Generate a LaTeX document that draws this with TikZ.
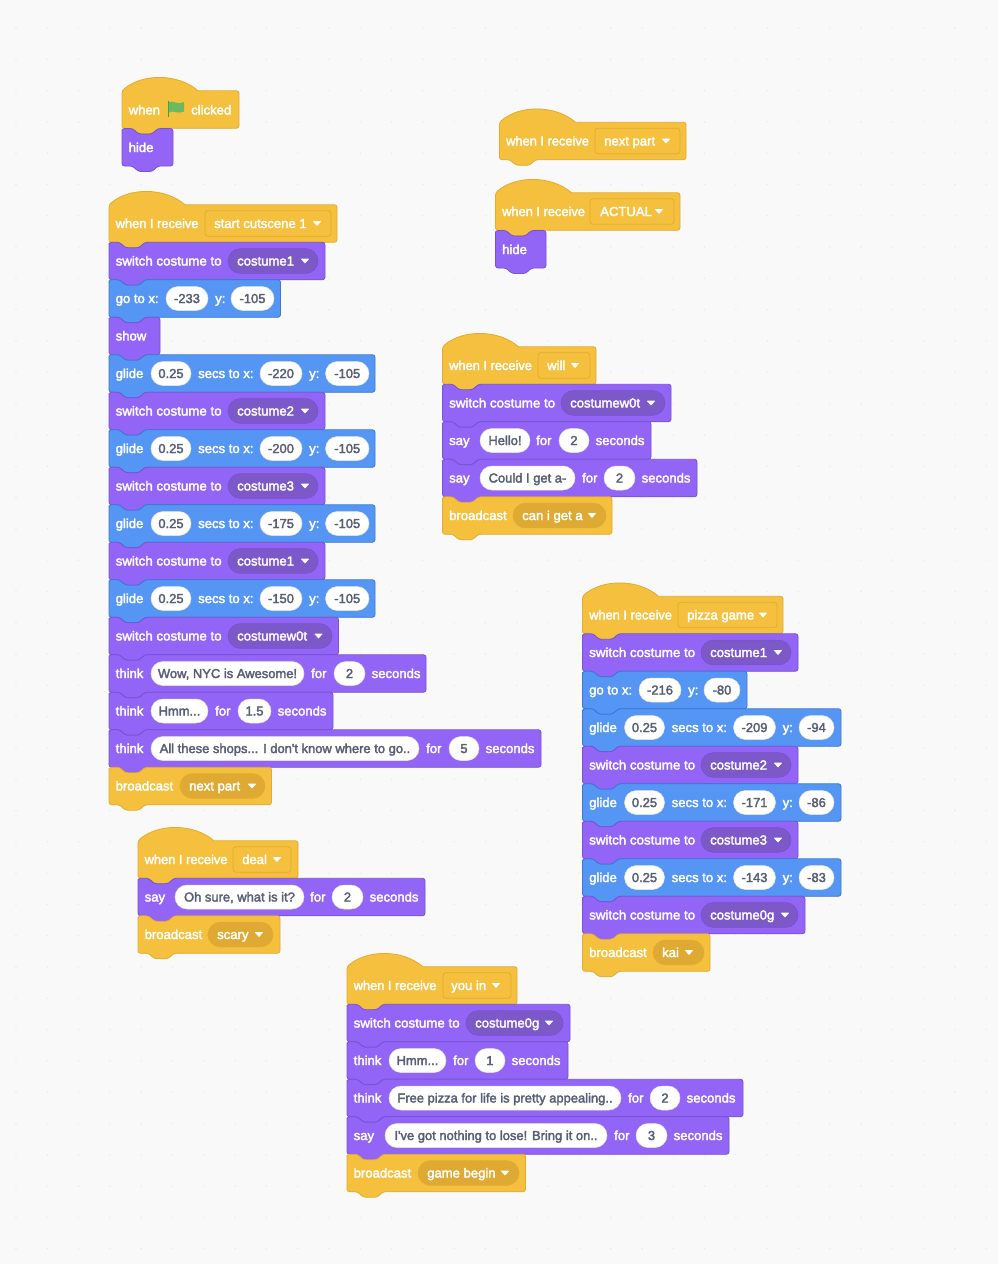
\documentclass[tikz,border=0pt]{standalone}
\usepackage{fontspec}
\usepackage{graphicx}
\newfontfamily\blk{Liberation Sans}
\newcommand{\wt}[1]{\special{pdf:code 0.32 w 2 Tr}#1\special{pdf:code 0 Tr}}
\definecolor{bgc}{RGB}{249,249,249}
\definecolor{dotc}{RGB}{234,234,234}
\definecolor{yel}{RGB}{245,192,62}
\definecolor{yeld}{RGB}{226,172,50}
\definecolor{yelp}{RGB}{222,170,52}
\definecolor{pur}{RGB}{146,101,247}
\definecolor{purd}{RGB}{120,82,208}
\definecolor{purp}{RGB}{125,88,200}
\definecolor{blu}{RGB}{85,150,245}
\definecolor{blud}{RGB}{60,120,210}
\definecolor{grytxt}{RGB}{87,94,117}
\definecolor{flagg}{RGB}{108,186,94}
\definecolor{poleg}{RGB}{70,160,70}
\newcounter{nc}
\tikzset{
  x=1pt,y=-1pt,
  blocky/.style={line width=.8pt,rounded corners=2.5pt,line join=round},
  ylw/.style={blocky,fill=yel,draw=yeld},
  prp/.style={blocky,fill=pur,draw=purd},
  bl/.style={blocky,fill=blu,draw=blud},
  lbl/.style={anchor=base west,inner sep=0pt,text=white,font=\blk\fontsize{13.1}{15}\selectfont},
  pll/.style={anchor=base,inner sep=0pt,text=grytxt,font=\blk\fontsize{12.95}{15}\selectfont},
  whitepill/.style={fill=white,draw=white!90!black,line width=.5pt,rounded corners=12pt},
  yelmenu/.style={fill=yelp,draw=yeld,line width=.6pt,rounded corners=12.4pt},
  purmenu/.style={fill=purp,draw=purd,line width=.6pt,rounded corners=12.4pt},
  hatmenu/.style={fill=yel,draw=yeld,line width=.8pt,rounded corners=3pt},
  tri/.style={fill=white,draw=white,line width=.6pt,line join=round},
}
% stack block: style, x, y centre, right end
\newcommand{\stk}[4]{\path[#1] ({#2},{#3-15}) -- ({#2},{#3-18.75}) -- ({#2+10.5},{#3-18.75}) -- ({#2+16.5},{#3-13.25}) -- ({#2+30},{#3-13.25}) -- ({#2+36},{#3-18.75}) -- ({#4},{#3-18.75}) -- ({#4},{#3+18.75}) -- ({#2+36},{#3+18.75}) -- ({#2+30},{#3+24.25}) -- ({#2+16.5},{#3+24.25}) -- ({#2+10.5},{#3+18.75}) -- ({#2},{#3+18.75}) -- cycle;}
% hat block: x, y centre, right end
\newcommand{\hatblk}[3]{\path[ylw] ({#1},{#2+8}) -- ({#1},{#2-18.75}) {[sharp corners] .. controls ({#1+20},{#2-36.25}) and ({#1+56},{#2-36.25}) .. ({#1+76},{#2-18.75})} -- ({#3},{#2-18.75}) -- ({#3},{#2+18.75}) -- ({#1+36},{#2+18.75}) -- ({#1+30},{#2+24.25}) -- ({#1+16.5},{#2+24.25}) -- ({#1+10.5},{#2+18.75}) -- ({#1},{#2+18.75}) -- cycle;}
\newcommand{\lab}[3]{\stepcounter{nc}\node[lbl] (n\arabic{nc}) at ({#1},{#2+4.5}) {\wt{#3}};}
% white input: x1, x2, y centre, text
\newcommand{\pil}[4]{\stepcounter{nc}\path[whitepill] ({#1},{#3-12}) rectangle ({#2},{#3+12});\node[pll] (n\arabic{nc}) at ({(#1+#2)/2},{#3+4.5}) {\wt{#4}};}
% menu: style, x1, x2, y centre, text, text x, triangle x
\newcommand{\mnu}[7]{\stepcounter{nc}\path[#1] ({#2},{#4-12.4}) rectangle ({#3},{#4+12.4});\node[lbl] (n\arabic{nc}) at ({#6},{#4+4.5}) {\wt{#5}};\path[tri] ({#7-3.6},{#4-2}) -- ({#7+3.6},{#4-2}) -- ({#7},{#4+2}) -- cycle;}
\newcommand{\hatmnu}[6]{\stepcounter{nc}\path[hatmenu] ({#1},{#3-12.8}) rectangle ({#2},{#3+12.8});\node[lbl] (n\arabic{nc}) at ({#5},{#3+4.5}) {\wt{#4}};\path[tri] ({#6-3.6},{#3-2}) -- ({#6+3.6},{#3-2}) -- ({#6},{#3+2}) -- cycle;}
% hat with receive label: x, y, right, menu x1, x2, text, text x, tri x
\newcommand{\rcv}[8]{\hatblk{#1}{#2}{#3}\lab{#1+6.5}{#2}{\scalebox{.98}[1]{when I receive}}\hatmnu{#4}{#5}{#2}{#6}{#7}{#8}}
% switch costume: x, y, right, menu x1, x2, text, tri
\newcommand{\swc}[7]{\stk{prp}{#1}{#2}{#3}\lab{#1+6.5}{#2}{\scalebox{1.018}[1]{switch costume to}}\mnu{purmenu}{#4}{#5}{#2}{#6}{#4+9}{#7}}
% glide: x, y, x value, y value, last input right offset, block right offset
\newcommand{\gld}[6]{\stk{bl}{#1}{#2}{#1+#6}\lab{#1+6.5}{#2}{glide}\pil{#1+42}{#1+82}{#2}{0.25}\lab{#1+89}{#2}{secs to x:}\pil{#1+151}{#1+193}{#2}{#3}\lab{#1+200}{#2}{y:}\pil{#1+216.5}{#1+#5}{#2}{#4}}
% broadcast: x,y,right,menu x1,x2,text,tri
\newcommand{\bdc}[7]{\stk{ylw}{#1}{#2}{#3}\lab{#1+6.5}{#2}{broadcast}\mnu{yelmenu}{#4}{#5}{#2}{#6}{#4+9}{#7}}
% speech: verb,x,y,right,p1,p2,text,for x,p3,p4,num,sec x
\newcommand{\spk}[1]{\def\spkverb{#1}\spkb}
\newcommand{\spkb}[9]{\stk{prp}{#1}{#2}{#3}\lab{#1+6.5}{#2}{\spkverb}\pil{#4}{#5}{#2}{#6}\lab{#7}{#2}{for}\pil{#8}{#9}{#2}{\spkc}\lab{#9+6.5}{#2}{seconds}}
\newcommand{\Spk}[3]{\def\spkc{#2}\spk{#1}#3}
\begin{document}
\begin{tikzpicture}
\useasboundingbox (0,0) rectangle (998,1264);
\fill[bgc] (0,0) rectangle (998,1264);
\foreach \i in {0,...,31}{\foreach \j in {0,...,40}{\fill[dotc] ({16+31.3*\i},{28+31.3*\j}) circle (.8pt);}}
% stack A
\hatblk{122}{109.5}{239}
\lab{128.5}{110}{when}
\fill[poleg] (167.5,101) rectangle (169.2,117);
\fill[flagg] (169,102) .. controls (173,100) and (178,105.5) .. (184,102) -- (184,111.5) .. controls (178,115) and (173,109.5) .. (169,112.5) -- cycle;
\lab{191}{110}{clicked}
\stk{prp}{122}{147.25}{173}
\lab{128.5}{147.5}{hide}
% stack B
\rcv{109}{223.5}{337}{205}{331}{start cutscene 1}{214}{317}
\swc{109}{261}{325}{228}{318}{costume1}{305}
\stk{bl}{109}{298.5}{280.5}\lab{115.5}{298.5}{go to x:}\pil{166}{208}{298.5}{-233}\lab{215}{298.5}{y:}\pil{231}{274}{298.5}{-105}
\stk{prp}{109}{336}{160}\lab{115.5}{336}{show}
\gld{109}{373.5}{-220}{-105}{260}{266}
\swc{109}{411}{325}{228}{318}{costume2}{305}
\gld{109}{448.5}{-200}{-105}{260}{266}
\swc{109}{486}{325}{228}{318}{costume3}{305}
\gld{109}{523.5}{-175}{-105}{260}{266}
\swc{109}{561}{325}{228}{318}{costume1}{305}
\gld{109}{598.5}{-150}{-105}{260}{266}
\swc{109}{636}{338.5}{228}{332}{costumew0t}{318.5}
\Spk{think}{2}{{109}{673.5}{426}{151}{304}{Wow, NYC is Awesome!}{311}{334}{365}}
\Spk{think}{1.5}{{109}{711}{333}{151}{208}{Hmm...}{215}{238}{271}}
\Spk{think}{5}{{109}{748.5}{541}{151}{419}{All these shops... I don't know where to go..}{426}{449}{479}}
\bdc{109}{786}{271.5}{180}{265}{next part}{252}
% stack C
\rcv{138}{859.5}{298}{233}{291}{deal}{242}{277}
\Spk{say}{2}{{138}{897}{425}{175}{304}{Oh sure, what is it?}{310}{332}{363}}
\bdc{138}{934.5}{280}{208}{273}{scary}{259}
% stack D
\rcv{347}{985.5}{517}{443}{511}{you in}{451}{496}
\swc{347}{1023}{570}{466}{563}{costume0g}{549}
\Spk{think}{1}{{347}{1060.5}{568}{389}{446}{Hmm...}{453}{475}{505}}
\Spk{think}{2}{{347}{1098}{743}{389}{621}{Free pizza for life is pretty appealing..}{628}{650}{680}}
\Spk{say}{3}{{347}{1135.5}{729}{385}{607}{I've got nothing to lose! Bring it on..}{614}{636}{667}}
\bdc{347}{1173}{525.5}{418}{519}{game begin}{505}
% stack E
\rcv{499.5}{141}{686}{595}{680}{next part}{604}{666}
% stack F
\rcv{495.5}{211.5}{680}{590}{674}{ACTUAL}{600}{659}
\stk{prp}{495.5}{249.25}{546}\lab{502}{249.5}{hide}
% stack G
\rcv{442.5}{365.5}{596}{538}{590}{will}{547}{575}
\swc{442.5}{403}{671}{561}{665}{costumew0t}{651}
\Spk{say}{2}{{442.5}{440.5}{651}{480}{530}{Hello!}{536}{559}{589}}
\Spk{say}{2}{{442.5}{478}{697}{480}{575}{Could I get a-}{582}{604}{635}}
\bdc{442.5}{515.5}{612}{513}{606}{can i get a}{592}
% stack H
\rcv{582.5}{615}{783}{678}{777}{pizza game}{687}{763}
\swc{582.5}{652.5}{798}{701}{791}{costume1}{778}
\stk{bl}{582.5}{690}{747}\lab{589}{690}{go to x:}\pil{639}{681}{690}{-216}\lab{688}{690}{y:}\pil{704}{740}{690}{-80}
\gld{582.5}{727.5}{-209}{-94}{251.5}{258.5}
\swc{582.5}{765}{798}{701}{791}{costume2}{778}
\gld{582.5}{802.5}{-171}{-86}{251.5}{258.5}
\swc{582.5}{840}{798}{701}{791}{costume3}{778}
\gld{582.5}{877.5}{-143}{-83}{251.5}{258.5}
\swc{582.5}{915}{805}{701}{798}{costume0g}{785}
\bdc{582.5}{952.5}{710}{653}{704}{kai}{689}
\end{tikzpicture}
\end{document}
